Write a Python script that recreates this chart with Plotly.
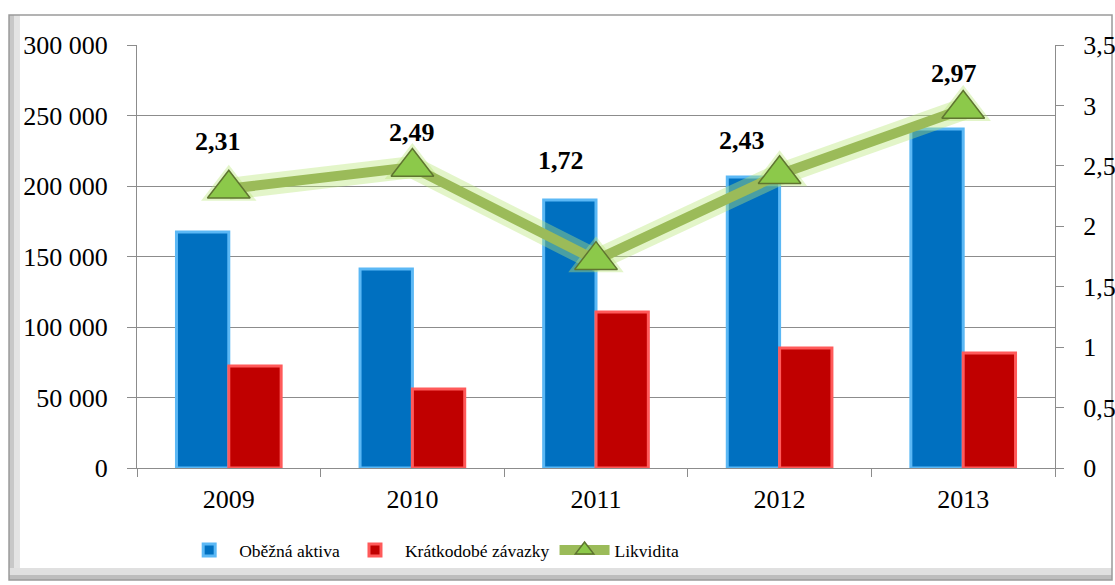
import plotly.graph_objects as go

# data
years = ["2009", "2010", "2011", "2012", "2013"]
obezna_aktiva = [167400, 141100, 190100, 206400, 240400]
kratkodobe_zavazky = [72300, 56000, 110600, 85100, 81500]
likvidita = [2.31, 2.49, 1.72, 2.43, 2.97]

# where Excel put the value labels (pixels relative to the marker)
label_dx = [-11, 0, -35, -38, -9]
label_dy = [47, 35, 100, 34, 36]

font = "Liberation Serif"
grid = "#8c8c8c"

fig = go.Figure()

fig.add_trace(go.Bar(
    x=years, y=obezna_aktiva, name="Oběžná aktiva",
    marker=dict(color="#0070C0", line=dict(color="#5BB8F5", width=3)),
))
fig.add_trace(go.Bar(
    x=years, y=kratkodobe_zavazky, name="Krátkodobé závazky",
    marker=dict(color="#C00000", line=dict(color="#FF5A5A", width=3)),
))
# soft glow behind the line
fig.add_trace(go.Scatter(
    x=years, y=likvidita, yaxis="y2", mode="lines+markers",
    line=dict(color="rgba(185,230,120,0.4)", width=22),
    marker=dict(symbol="triangle-up", size=48, color="rgba(185,230,120,0.4)"),
    showlegend=False, hoverinfo="skip",
))
fig.add_trace(go.Scatter(
    x=years, y=likvidita, yaxis="y2", mode="lines+markers", name="Likvidita",
    line=dict(color="#9BBB59", width=10),
    marker=dict(symbol="triangle-up", size=37, color="#8CC94A",
                line=dict(color="#5F7530", width=1.5)),
))

# category axis: annotations take the category index
for i, v in enumerate(likvidita):
    fig.add_annotation(
        x=i, y=v, yref="y2", text="<b>" + f"{v:.2f}".replace(".", ",") + "</b>",
        showarrow=False, xshift=label_dx[i], yshift=label_dy[i],
        font=dict(family=font, size=26, color="black"),
    )

# outer chart frame with a bevelled shadow (left and bottom)
fx0, fx1, fy0, fy1 = -0.1394, 1.0621, -0.2648, 1.0709
fig.add_shape(type="rect", xref="paper", yref="paper",
              x0=fx0, x1=-0.1275, y0=fy0, y1=fy1,
              fillcolor="#e4e4e4", line=dict(width=0), layer="below")
fig.add_shape(type="rect", xref="paper", yref="paper",
              x0=fx0, x1=-0.1340, y0=fy0, y1=fy1,
              fillcolor="#c8c8c8", line=dict(width=0), layer="below")
fig.add_shape(type="rect", xref="paper", yref="paper",
              x0=fx0, x1=fx1, y0=fy0, y1=-0.2364,
              fillcolor="#e0e0e0", line=dict(width=0), layer="below")
fig.add_shape(type="rect", xref="paper", yref="paper",
              x0=fx0, x1=fx1, y0=fy0, y1=-0.2530,
              fillcolor="#bdbdbd", line=dict(width=0), layer="below")
fig.add_shape(type="rect", xref="paper", yref="paper",
              x0=fx0, x1=fx1, y0=fy0, y1=fy1,
              line=dict(color="#9a9a9a", width=1.5), layer="below")

fig.update_layout(
    width=1115, height=585,
    margin=dict(l=137, r=60, t=45, b=117, autoexpand=False),
    paper_bgcolor="white", plot_bgcolor="white",
    separators=", ",
    font=dict(family=font, size=26, color="black"),
    barmode="group", bargap=0.43, bargroupgap=0.0,
    xaxis=dict(
        type="category", range=[-0.5, 4.5], showline=True, linecolor=grid, linewidth=1,
        ticks="outside", tickson="boundaries", ticklen=8, tickcolor=grid,
        ticklabelstandoff=8, showgrid=False, tickangle=0, automargin=False,
    ),
    yaxis=dict(
        range=[0, 300000], dtick=50000, tickformat=",d",
        showgrid=True, gridcolor=grid, gridwidth=1,
        showline=True, linecolor=grid, linewidth=1,
        ticks="outside", ticklen=9, tickcolor=grid, ticklabelstandoff=14,
        zeroline=False, automargin=False,
    ),
    yaxis2=dict(
        range=[0, 3.5], dtick=0.5, overlaying="y", side="right",
        showgrid=False, showline=True, linecolor=grid, linewidth=1,
        ticks="outside", ticklen=8, tickcolor=grid, ticklabelstandoff=14,
        zeroline=False, automargin=False,
    ),
    legend=dict(
        orientation="h", x=0.321, xanchor="center", y=-0.194, yanchor="middle",
        font=dict(family=font, size=17.5), itemwidth=50, tracegroupgap=0,
        bgcolor="rgba(0,0,0,0)",
    ),
    showlegend=True,
)

# drop the default 8px body margin so the figure fills the window exactly
fig.write_html("out.html", config={"displayModeBar": False},
               post_script="document.body.style.margin='0';")
